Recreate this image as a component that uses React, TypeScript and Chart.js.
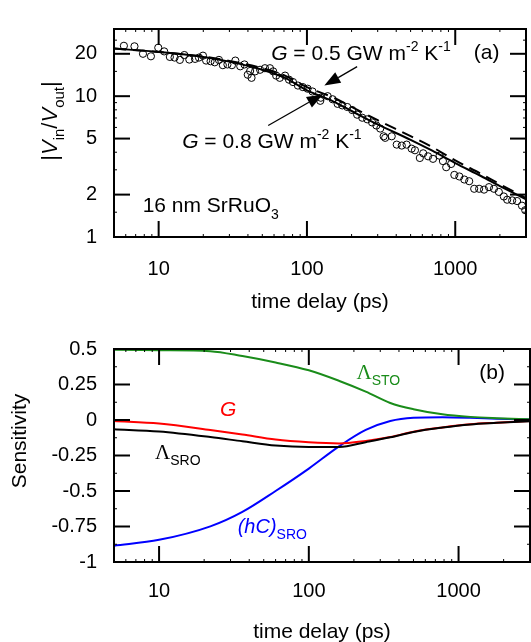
import React, { useEffect, useRef } from "react";
import { Chart, registerables } from "chart.js";
Chart.register(...registerables);

const SANS = '"Liberation Sans", Arial, Helvetica, sans-serif';
const SERIF = '"Liberation Serif", "Times New Roman", serif';

// ---------- Panel (a) ----------
const fitTime = [5, 10, 20, 30, 50, 70, 100, 150, 200, 300, 500, 700, 1000, 1500, 2000, 3000];
const fitG08 = [21.8, 20.6, 19.0, 17.6, 15.4, 13.6, 11.0, 9.2, 7.85, 6.3, 4.9, 4.1, 3.35, 2.7, 2.3, 1.85];
const fitG05 = [21.8, 20.6, 19.1, 17.8, 15.8, 14.1, 11.6, 9.8, 8.4, 6.75, 5.2, 4.35, 3.5, 2.8, 2.37, 1.89];

const measTime = [5.83, 6.87, 7.84, 8.87, 9.94, 10.9, 11.9, 12.8, 13.9, 14.9, 16.1, 17.6, 18.7, 19.9, 20.9, 22.4, 23.9, 25.5, 27.1, 29.1, 31.2, 32.9, 35.5, 37.9, 39.9, 41.4, 42.3, 44.7, 48.3, 52.1, 56.3, 59.2, 62.0, 65.6, 71.2, 75.7, 80.5, 86.9, 93.8, 101, 109, 123, 124, 138, 149, 161, 173, 187, 202, 218, 236, 255, 275, 294, 312, 329, 337, 373, 403, 436, 470, 508, 535, 577, 608, 656, 708, 784, 826, 869, 938, 986, 1066, 1151, 1242, 1342, 1449, 1564, 1689, 1824, 1968, 2126, 2240, 2420, 2612, 2818, 2965];
const measRatio = [22.8, 22.6, 20.0, 19.2, 22.1, 20.8, 19.0, 18.8, 18.1, 19.6, 18.2, 18.4, 18.8, 19.4, 17.9, 17.7, 17.4, 18.1, 16.6, 16.8, 16.6, 17.9, 16.3, 16.8, 14.2, 15.1, 13.5, 15.0, 15.4, 15.8, 15.8, 15.0, 14.0, 13.5, 14.0, 13.1, 12.6, 11.9, 11.6, 11.3, 10.8, 9.27, 9.75, 10.0, 9.51, 8.82, 8.60, 8.38, 7.97, 7.39, 7.03, 6.85, 6.51, 6.19, 5.89, 5.19, 5.06, 5.19, 4.53, 4.46, 4.53, 4.24, 4.13, 3.64, 3.93, 3.74, 3.59, 3.78, 3.46, 3.13, 3.30, 2.76, 2.69, 2.56, 2.49, 2.20, 2.20, 2.17, 2.26, 2.20, 2.09, 1.94, 1.84, 1.82, 1.80, 1.67, 1.55];

const ratioTicks = [1, 2, 5, 10, 20];
const timeTicks = [10, 100, 1000];
const timeMinor = [6, 7, 8, 9, 20, 30, 40, 50, 60, 70, 80, 90, 200, 300, 400, 500, 600, 700, 800, 900, 2000, 3000];

// ---------- Panel (b) ----------
const sensTime = [5, 10, 22, 36, 60, 100, 160, 240, 350, 500, 780, 1200, 1800, 3000];
const sensLambdaSTO = [0.495, 0.492, 0.485, 0.45, 0.405, 0.35, 0.275, 0.2, 0.12, 0.076, 0.04, 0.022, 0.013, 0.005];
const sensG = [-0.007, -0.025, -0.07, -0.102, -0.138, -0.157, -0.165, -0.147, -0.12, -0.082, -0.052, -0.03, -0.019, -0.007];
const sensLambdaSRO = [-0.065, -0.081, -0.12, -0.15, -0.18, -0.19, -0.19, -0.156, -0.122, -0.084, -0.053, -0.031, -0.02, -0.008];
const sensHC = [-0.885, -0.844, -0.749, -0.647, -0.5, -0.342, -0.184, -0.07, -0.007, 0.016, 0.02, 0.016, 0.009, 0.003];
const sensTicks = [0.5, 0.25, 0, -0.25, -0.5, -0.75, -1];
const sensMinor = [0.375, 0.125, -0.125, -0.375, -0.625, -0.875];

type Run = { t: string; it?: boolean; sub?: boolean; sup?: boolean; serif?: boolean };

function drawRuns(ctx: CanvasRenderingContext2D, runs: Run[], x: number, y: number, size: number, small: number, color: string) {
  let cx = x;
  ctx.fillStyle = color;
  ctx.textAlign = "left";
  ctx.textBaseline = "alphabetic";
  for (const r of runs) {
    const s = r.sub || r.sup ? small : size;
    ctx.font = `${r.it ? "italic " : ""}${s}px ${r.serif ? SERIF : SANS}`;
    const dy = r.sub ? size * 0.3 : r.sup ? -size * 0.4 : 0;
    ctx.fillText(r.t, cx, y + dy);
    cx += ctx.measureText(r.t).width;
  }
  return cx - x;
}

function runsWidth(ctx: CanvasRenderingContext2D, runs: Run[], size: number, small: number) {
  let w = 0;
  for (const r of runs) {
    const s = r.sub || r.sup ? small : size;
    ctx.font = `${r.it ? "italic " : ""}${s}px ${r.serif ? SERIF : SANS}`;
    w += ctx.measureText(r.t).width;
  }
  return w;
}

function frameAndTicks(chart: any, xMajor: number[], xMinor: number[], yMajor: number[], yMinor: number[]) {
  const { ctx, chartArea: a, scales } = chart;
  const xs = scales.x;
  const ys = scales.y;
  ctx.save();
  ctx.strokeStyle = "#000";
  const seg = (x1: number, y1: number, x2: number, y2: number) => {
    ctx.beginPath();
    ctx.moveTo(x1, y1);
    ctx.lineTo(x2, y2);
    ctx.stroke();
  };
  ctx.lineWidth = 1;
  for (const v of xMinor) {
    const p = xs.getPixelForValue(v);
    if (p <= a.left || p >= a.right) continue;
    seg(p, a.bottom, p, a.bottom - 3);
    seg(p, a.top, p, a.top + 3);
  }
  for (const v of yMinor) {
    const p = ys.getPixelForValue(v);
    if (p <= a.top || p >= a.bottom) continue;
    seg(a.left, p, a.left + 3, p);
    seg(a.right, p, a.right - 3, p);
  }
  ctx.lineWidth = 2;
  for (const v of xMajor) {
    const p = xs.getPixelForValue(v);
    seg(p, a.bottom, p, a.bottom - 16);
    seg(p, a.top, p, a.top + 16);
  }
  for (const v of yMajor) {
    const p = ys.getPixelForValue(v);
    if (p <= a.top + 1 || p >= a.bottom - 1) continue;
    seg(a.left, p, a.left + 16, p);
    seg(a.right, p, a.right - 16, p);
  }
  ctx.strokeRect(a.left, a.top, a.right - a.left, a.bottom - a.top);
  ctx.restore();
}

function arrow(ctx: CanvasRenderingContext2D, x1: number, y1: number, x2: number, y2: number) {
  const ang = Math.atan2(y2 - y1, x2 - x1);
  const L = 16, W = 6;
  const bx = x2 - L * Math.cos(ang), by = y2 - L * Math.sin(ang);
  ctx.save();
  ctx.strokeStyle = "#000";
  ctx.fillStyle = "#000";
  ctx.lineWidth = 1.3;
  ctx.beginPath();
  ctx.moveTo(x1, y1);
  ctx.lineTo(bx, by);
  ctx.stroke();
  ctx.beginPath();
  ctx.moveTo(x2, y2);
  ctx.lineTo(bx + W * Math.sin(ang), by - W * Math.cos(ang));
  ctx.lineTo(bx - W * Math.sin(ang), by + W * Math.cos(ang));
  ctx.closePath();
  ctx.fill();
  ctx.restore();
}

function bottomTitle(chart: any, yPix: number) {
  const { ctx, chartArea: a } = chart;
  ctx.save();
  ctx.fillStyle = "#000";
  ctx.font = `21px ${SANS}`;
  ctx.textAlign = "center";
  ctx.textBaseline = "middle";
  ctx.fillText("time delay (ps)", (a.left + a.right) / 2, yPix);
  ctx.restore();
}

const decorA = {
  id: "decorA",
  afterDatasetsDraw(chart: any) {
    const { ctx, scales } = chart;
    const X = (v: number) => scales.x.getPixelForValue(v);
    const Y = (v: number) => scales.y.getPixelForValue(v);
    frameAndTicks(chart, timeTicks, timeMinor, ratioTicks, [1.5, 3, 4, 6, 7, 8, 9, 15, 25, 30]);
    ctx.save();
    const gm = [
      { t: " GW m" }, { t: "-2", sup: true }, { t: " K" }, { t: "-1", sup: true },
    ];
    drawRuns(ctx, [{ t: "G", it: true }, { t: " = 0.5" }, ...gm], X(57.4), Y(18.2), 21, 14, "#000");
    drawRuns(ctx, [{ t: "G", it: true }, { t: " = 0.8" }, ...gm], X(14.4), Y(4.31), 21, 14, "#000");
    drawRuns(ctx, [{ t: "16 nm SrRuO" }, { t: "3", sub: true }], X(7.8), Y(1.5), 21, 14, "#000");
    drawRuns(ctx, [{ t: "(a)" }], X(1334), Y(18.3), 21, 14, "#000");
    arrow(ctx, X(218), Y(16.2), X(131), Y(11.9));
    arrow(ctx, X(54.8), Y(6.19), X(128), Y(10.3));
    // y title
    const yRuns: Run[] = [
      { t: "|" }, { t: "V", it: true }, { t: "in", sub: true }, { t: "/" },
      { t: "V", it: true }, { t: "out", sub: true }, { t: "|" },
    ];
    ctx.translate(57, 121);
    ctx.rotate(-Math.PI / 2);
    const w = runsWidth(ctx, yRuns, 22, 15);
    drawRuns(ctx, yRuns, -w / 2, 0, 22, 15, "#000");
    ctx.restore();
    bottomTitle(chart, 302);
  },
};

const decorB = {
  id: "decorB",
  afterDatasetsDraw(chart: any) {
    const { ctx, scales } = chart;
    const X = (v: number) => scales.x.getPixelForValue(v);
    const Y = (v: number) => scales.y.getPixelForValue(v);
    frameAndTicks(chart, timeTicks, timeMinor, sensTicks, sensMinor);
    ctx.save();
    drawRuns(ctx, [{ t: "Λ", serif: true }, { t: "STO", sub: true }], X(208), Y(0.29), 21, 14, "#1a8c1a");
    drawRuns(ctx, [{ t: "(b)" }], X(1377), Y(0.29), 21, 14, "#000");
    drawRuns(ctx, [{ t: "G", it: true }], X(25.5), Y(0.025), 21, 14, "#ff0000");
    drawRuns(ctx, [{ t: "Λ", serif: true }, { t: "SRO", sub: true }], X(9.4), Y(-0.274), 21, 14, "#000");
    drawRuns(ctx, [{ t: "(hC)", it: true }, { t: "SRO", sub: true }], X(33.5), Y(-0.797), 20, 14, "#0000ff");
    ctx.translate(20, 441 - 320);
    ctx.rotate(-Math.PI / 2);
    ctx.fillStyle = "#000";
    ctx.font = `21px ${SANS}`;
    ctx.textAlign = "center";
    ctx.textBaseline = "middle";
    ctx.fillText("Sensitivity", 0, 0);
    ctx.restore();
    bottomTitle(chart, 632 - 320);
  },
};

const tickFont = { family: SANS, size: 20 };

function xAxis(height: number, pad: number) {
  return {
    type: "logarithmic" as const,
    min: 5,
    max: 3000,
    grid: { display: false, drawTicks: false },
    border: { display: false },
    ticks: { font: tickFont, color: "#000", padding: pad, maxRotation: 0, autoSkip: false, callback: (v: any) => String(v) },
    afterBuildTicks: (s: any) => { s.ticks = timeTicks.map((v) => ({ value: v })); },
    afterFit: (s: any) => { s.height = height; },
  };
}

export default function App() {
  const refA = useRef<HTMLCanvasElement>(null);
  const refB = useRef<HTMLCanvasElement>(null);

  useEffect(() => {
    Chart.defaults.font.family = SANS;
    const line = (label: string, xs: number[], ys: number[], color: string, dash?: number[]) => ({
      label,
      data: xs.map((x, i) => ({ x, y: ys[i] })),
      borderColor: color,
      borderWidth: 2,
      borderDash: dash || [],
      pointRadius: 0,
      fill: false,
      cubicInterpolationMode: "monotone" as const,
    });

    const chartA = new Chart(refA.current!, {
      type: "line",
      data: {
        datasets: [
          {
            label: "data",
            data: measTime.map((x, i) => ({ x, y: measRatio[i] })),
            showLine: false,
            pointRadius: 3.6,
            pointBorderWidth: 1,
            pointBorderColor: "#000",
            pointBackgroundColor: "rgba(255,255,255,0)",
          } as any,
          line("G = 0.5", fitTime, fitG05, "#000", [12, 7]),
          line("G = 0.8", fitTime, fitG08, "#000"),
        ],
      },
      options: {
        animation: false,
        responsive: false,
        events: [],
        layout: { padding: { top: 13, right: 1, left: 0, bottom: 0 } },
        plugins: { legend: { display: false }, tooltip: { enabled: false } },
        scales: {
          x: xAxis(83, 20) as any,
          y: {
            type: "logarithmic",
            min: 1,
            max: 30,
            grid: { display: false, drawTicks: false },
            border: { display: false },
            ticks: { font: tickFont, color: "#000", padding: 17, autoSkip: false, callback: (v: any) => String(v) },
            afterBuildTicks: (s: any) => { s.ticks = ratioTicks.map((v) => ({ value: v })); },
            afterFit: (s: any) => { s.width = 114; },
          } as any,
        },
      },
      plugins: [decorA],
    });

    const chartB = new Chart(refB.current!, {
      type: "line",
      data: {
        datasets: [
          line("Lambda STO", sensTime, sensLambdaSTO, "#1a8c1a"),
          line("Lambda SRO", sensTime, sensLambdaSRO, "#000"),
          line("G", sensTime, sensG, "#ff0000"),
          line("hC SRO", sensTime, sensHC, "#0000ff"),
        ],
      },
      options: {
        animation: false,
        responsive: false,
        events: [],
        layout: { padding: { top: 21, right: 1, left: 0, bottom: 0 } },
        plugins: { legend: { display: false }, tooltip: { enabled: false } },
        scales: {
          x: xAxis(80, 17) as any,
          y: {
            type: "linear",
            min: -1,
            max: 0.5,
            grid: { display: false, drawTicks: false },
            border: { display: false },
            ticks: { font: tickFont, color: "#000", padding: 17, autoSkip: false, callback: (v: any) => String(v) },
            afterBuildTicks: (s: any) => { s.ticks = sensTicks.map((v) => ({ value: v })); },
            afterFit: (s: any) => { s.width = 114; },
          } as any,
        },
      },
      plugins: [decorB],
    });

    return () => {
      chartA.destroy();
      chartB.destroy();
    };
  }, []);

  return (
    <div style={{ position: "absolute", left: 0, top: 0, width: 531, height: 642, background: "#fff", overflow: "hidden" }}>
      <canvas ref={refA} width={531} height={320} style={{ position: "absolute", left: 0, top: 0 }} />
      <canvas ref={refB} width={531} height={322} style={{ position: "absolute", left: 0, top: 320 }} />
    </div>
  );
}
